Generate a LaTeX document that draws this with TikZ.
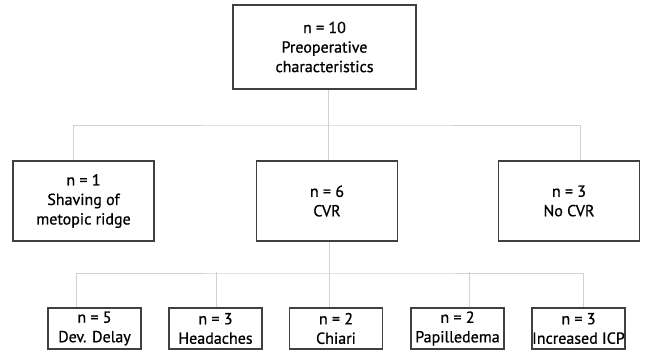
\documentclass[tikz,border=0pt]{standalone}
\usepackage{fontspec}
\setmainfont{PT Sans}[FakeBold=0.8]
\begin{document}
\begin{tikzpicture}[
    x=1pt, y=-1pt,
    box/.style={
        draw=black!75,
        line width=1.1pt,
        align=center,
        inner sep=0pt,
        fill=white,
        font=\fontsize{16}{19.5}\selectfont
    },
    big/.style={box, minimum width=183pt, minimum height=84pt},
    mid/.style={box, minimum width=141pt, minimum height=80pt},
    small/.style={box, minimum width=93pt, minimum height=41pt},
    link/.style={draw=black!18, line width=0.9pt}
]
    \useasboundingbox (0,0) rectangle (646,352);

    \node[big] (pre) at (324.5,47)
        {n = 10\\Preoperative\\characteristics};

    \node[mid] (shave) at (83.5,201) {n = 1\\Shaving of\\metopic ridge};
    \node[mid] (cvr) at (327,201) {n = 6\\CVR};
    \node[mid] (nocvr) at (569,201) {n = 3\\No CVR};

    \node[small] (delay) at (94.5,328.5) {n = 5\\Dev. Delay};
    \node[small] (head) at (215.5,328.5) {n = 3\\Headaches};
    \node[small] (chiari) at (336,328.5) {n = 2\\Chiari};
    \node[small] (papil) at (457.5,328.5) {n = 2\\Papilledema};
    \node[small] (icp) at (578.5,328.5) {n = 3\\Increased ICP};

    % first level
    \coordinate (topbus) at (328,125);
    \draw[link] (pre.south -| topbus) -- (topbus);
    \draw[link] ([xshift=-10.5pt]shave.north) |- (topbus) -| ([xshift=11pt]nocvr.north);
    \draw[link] (topbus) -- (cvr.north -| topbus);

    % second level
    \coordinate (lowbus) at (329,273);
    \draw[link] (cvr.south -| lowbus) -- (lowbus);
    \draw[link] ([xshift=-18.5pt]delay.north) |- (lowbus) -| ([xshift=4.5pt]icp.north);
    \draw[link] ([xshift=0.5pt]head.north) -- ++(0,-35);
    \draw[link] ([xshift=-7pt]chiari.north) -- ++(0,-35);
    \draw[link] ([xshift=11.5pt]papil.north) -- ++(0,-35);
\end{tikzpicture}
\end{document}
